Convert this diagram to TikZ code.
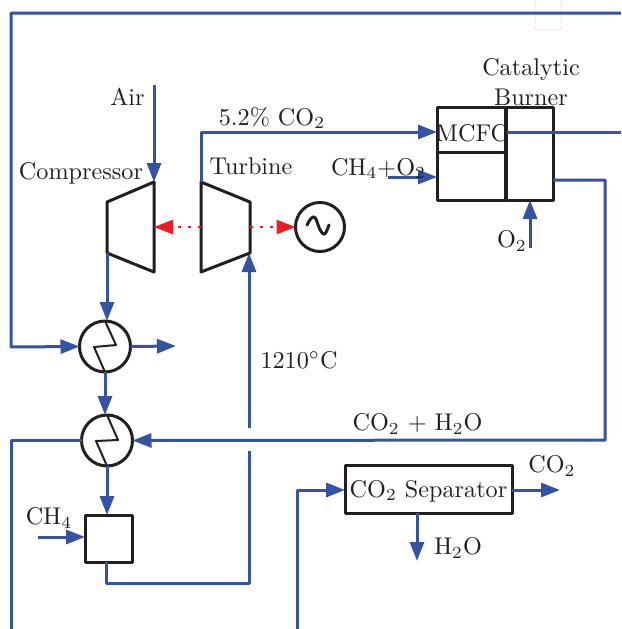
\documentclass[tikz,border=0pt]{standalone}
\usetikzlibrary{arrows.meta,calc}
\definecolor{flowblue}{HTML}{3553A5}
\definecolor{flowred}{HTML}{ED1C24}
\definecolor{ink}{HTML}{231F20}
\begin{document}
\begin{tikzpicture}[x=1pt,y=-1pt,
  every node/.style={text=ink,inner sep=0pt,outer sep=0pt},
  flowline/.style={draw=flowblue,line width=3pt,line join=round},
  flowarrow/.style={flowline,-{Triangle[length=19pt,width=14pt,color=flowblue]}},
  shaftarrow/.style={draw=flowred,line width=2.5pt,dash pattern=on 3pt off 7pt,-{Triangle[length=19pt,width=14pt,color=flowred]}},
  unit/.style={draw=ink,line width=3pt,line join=round},
  exchanger/.style={unit,circle,minimum size=51pt},
  label/.style={anchor=center,scale=2.42,font=\fontsize{10}{12}\selectfont}]
\useasboundingbox (0,0) rectangle (621,629);
\fill[white] (0,0) rectangle (621,629);
\draw[black!5,line width=1.5pt,rounded corners=1pt] (535,-2) -- (535,30) -- (561,30) -- (561,-2);

% free ends and corner points
\coordinate (topEnd) at (621,13);
\coordinate (airIn) at (154,85);
\coordinate (compTR) at (154,182);
\coordinate (compBR) at (154,272);
\coordinate (compTL) at (107,202);
\coordinate (compBL) at (107,253);
\coordinate (turbTL) at (201,182);
\coordinate (turbBL) at (201,272);
\coordinate (turbTR) at (250,202);
\coordinate (turbBR) at (250,253);
\coordinate (feedOut) at (201,132);
\coordinate (burnOutEnd) at (621,132);
\coordinate (methIn) at (388,177);
\coordinate (o2In) at (530,248);
\coordinate (hxOut) at (176,346);
\coordinate (ch4In) at (38,537);
\coordinate (bottomL) at (11,629);
\coordinate (bottomR) at (297,629);
\coordinate (sepCO2) at (560,490);
\coordinate (sepH2O) at (417,561);
\coordinate (gapLow) at (249,451);
\coordinate (gapHigh) at (249,428);
\coordinate (mixLow) at (106,583);

% equipment
\node[unit,minimum width=68.5pt,minimum height=45pt] (mcfcU) at (471.25,129.5) {};
\node[unit,minimum width=68.5pt,minimum height=48pt] (mcfcL) at (471.25,176) {};
\node[unit,minimum width=46.5pt,minimum height=93pt] (burner) at (529.75,153.5) {};
\node[unit,minimum width=47pt,minimum height=47pt] (mixer) at (108.5,538.5) {};
\node[unit,minimum width=167pt,minimum height=48pt] (sep) at (428.5,489) {};
\node[exchanger] (hxA) at (105,346.5) {};
\node[exchanger] (hxB) at (107,440.5) {};
\node[unit,circle,minimum size=49pt] (gen) at (320,227) {};

\draw[unit] (compTL) -- (compTR) -- (compBR) -- (compBL) -- cycle;
\draw[unit] (turbTL) -- (turbTR) -- (turbBR) -- (turbBL) -- cycle;
\draw[draw=ink,line width=2pt,line join=round] (hxA.north) -- (116,345) -- (94,347) -- (hxA.south);
\draw[draw=ink,line width=2pt,line join=round] (hxB.north) -- (118,440) -- (96,441) -- (hxB.south);
\draw[draw=ink,line width=3pt,line cap=round] (307,225) .. controls (310,219) and (312,217) .. (313.5,217) .. controls (316,217) and (317,222) .. (318.5,226) .. controls (320,230) and (322,234) .. (324,234) .. controls (326,234) and (327,230) .. (329,225);

% connectors
\draw[flowarrow] (topEnd) -- (11,13) -- (11,347) -- (hxA.west);
\draw[flowarrow] (airIn) -- (compTR);
\draw[flowarrow] (turbTL) -- (feedOut) -- (mcfcU.west |- feedOut);
\draw[flowline] (burner.west |- burnOutEnd) -- (burnOutEnd);
\draw[flowarrow] (methIn) -- (mcfcL.west |- methIn);
\draw[flowarrow] (o2In) -- (o2In |- burner.south);
\draw[flowarrow] (burner.east |- 0,180) -- (605,180) -- (605,440) -- (hxB.east);
\draw[flowarrow] (compBL) -- (compBL |- hxA.north);
\draw[flowarrow] (hxA.east) -- (hxOut);
\draw[flowarrow] (hxA.south) -- (hxB.north -| hxA.south);
\draw[flowline] (hxB.west) -- (11,440.5) -- (bottomL);
\draw[flowarrow] (hxB.south) -- (mixer.north -| hxB.south);
\draw[flowarrow] (ch4In) -- (mixer.west |- ch4In);
\draw[flowline] (mixer.south -| mixLow) -- (mixLow) -- (mixLow -| gapLow) -- (gapLow);
\draw[flowarrow] (gapHigh) -- (turbBR -| gapHigh);
\draw[flowarrow] (bottomR) -- (297,490) -- (sep.west |- 0,490);
\draw[flowarrow] (sep.east |- sepCO2) -- (sepCO2);
\draw[flowarrow] (sep.south -| sepH2O) -- (sepH2O);
\path[shaftarrow] (turbTL |- gen.west) -- (compTR |- gen.west);
\path[shaftarrow] (turbBR |- gen.west) -- (gen.west);

% labels
\node[label] (lAir) at (127.5,97) {Air};
\node[label] (lComp) at (81,173) {Compressor};
\node[label] (lTurb) at (251,166) {Turbine};
\node[label] (lFeed) at (272,118) {5.2\% CO$_2$};
\node[label] (lMeth) at (378.5,168.5) {CH$_4$+O$_2$};
\node[label] (lMCFC) at (472,133) {MCFC};
\node[label] (lCat) at (531,69) {Catalytic};
\node[label] (lBurn) at (531,97) {Burner};
\node[label] (lO2) at (512,241) {O$_2$};
\node[label] (lTemp) at (299,360) {1210$^\circ$C};
\node[label] (lExh) at (417.5,424) {CO$_2$ + H$_2$O};
\node[label] (lOutC) at (552,466) {CO$_2$};
\node[label] (lSep) at (428.5,491) {CO$_2$ Separator};
\node[label] (lOutW) at (458,548) {H$_2$O};
\node[label] (lCH4) at (49,518) {CH$_4$};
\end{tikzpicture}
\end{document}
